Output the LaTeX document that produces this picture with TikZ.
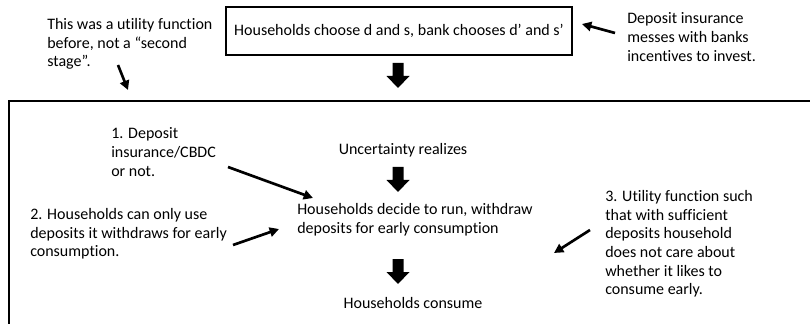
\documentclass[tikz,border=0pt]{standalone}
\usepackage{fontspec}
\setmainfont[Ligatures=NoCommon]{Carlito}
\usepackage{tikz}
\usetikzlibrary{arrows.meta, positioning}
\tikzstyle{note} = [inner sep=0pt, align=left, anchor=west]
\tikzstyle{stage} = [inner sep=0pt, align=center]
\tikzstyle{arrow} = [line width=2pt, -{Triangle[length=7pt, width=7pt]}]
\tikzset{blockdown/.pic={\fill[black] (-5.5,0) -- (5.5,0) -- (5.5,13) -- (11.5,13) -- (0,25) -- (-11.5,13) -- (-5.5,13) -- cycle;}}

\begin{document}
\begin{tikzpicture}[x=0.75pt, y=-0.75pt, font=\fontsize{12pt}{14pt}\selectfont]
    \clip (0,0) rectangle (810,324);
    \fill[white] (0,0) rectangle (810,324);
    \node[draw, line width=1.5pt, minimum width=259.5pt, minimum height=36pt] (choose) at (399,31) {Households choose d and s, bank chooses d’ and s’};
    \node[note] (stagenote) at (47,44) {This was a utility function\\before, not a “second\\stage”.};
    \node[note] (insnote) at (627,37) {Deposit insurance\\messes with banks\\incentives to invest.};
    \pic at (398,63) {blockdown};
    \draw[line width=1.8pt] (9,330) -- (9,101) -- (815,101);
    \node[stage] (uncert) at (403,150) {Uncertainty realizes};
    \pic at (398,167) {blockdown};
    \node[note] (run) at (297,220) {Households decide to run, withdraw\\deposits for early consumption};
    \pic at (398,259) {blockdown};
    \node[stage] (consume) at (413,303) {Households consume};
    \node[note] (one) at (111,152) {1. Deposit\\insurance/CBDC\\or not.};
    \node[note] (two) at (30,234) {2. Households can only use\\deposits it withdraws for early\\consumption.};
    \node[note] (three) at (605,244) {3. Utility function such\\that with sufficient\\deposits household\\does not care about\\whether it likes to\\consume early.};
    \coordinate (stagetail) at (118,65);
    \coordinate (stagetip) at (128,90);
    \coordinate (instail) at (615,33);
    \coordinate (instip) at (582,24);
    \coordinate (onetail) at (228,167);
    \coordinate (onetip) at (313,198);
    \coordinate (twotail) at (233,245);
    \coordinate (twotip) at (279,229);
    \coordinate (threetail) at (590,230);
    \coordinate (threetip) at (554,253);
    \draw[arrow] (stagetail) -- (stagetip);
    \draw[arrow] (instail) -- (instip);
    \draw[arrow] (onetail) -- (onetip);
    \draw[arrow] (twotail) -- (twotip);
    \draw[arrow] (threetail) -- (threetip);
\end{tikzpicture}
\end{document}
